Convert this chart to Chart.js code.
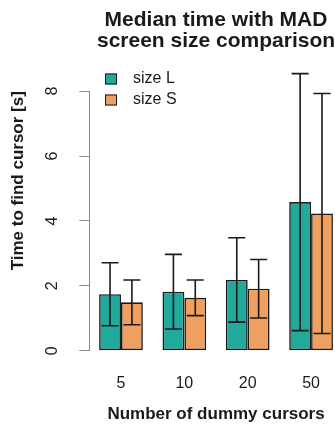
<!DOCTYPE html>
<html>
<head>
<meta charset="utf-8">
<script src="https://cdn.jsdelivr.net/npm/chart.js@4.4.1/dist/chart.umd.min.js"></script>
<style>
  html, body { margin: 0; padding: 0; background: #fff; overflow: hidden; }
  canvas { display: block; }
</style>
</head>
<body>
<canvas id="madChart" width="343" height="425"></canvas>
<script>
// Values
const categories = ['5', '10', '20', '50'];
const seriesLabels = ['size L', 'size S'];
const medianL = [1.74, 1.82, 2.18, 4.58];
const medianS = [1.49, 1.63, 1.91, 4.23];
const madL = [0.97, 1.15, 1.30, 3.96];
const madS = [0.69, 0.55, 0.90, 3.70];
const yTicks = [0, 2, 4, 6, 8];

const FONT = "'Liberation Sans', Arial, Helvetica, sans-serif";
const TEAL = '#21a99b';
const ORANGE = '#efa060';
const INK = '#1a1a1a';

// Draws the MAD whiskers on top of the bars
const errorBars = {
    id: 'errorBars',
    afterDatasetsDraw(chart) {
        const ctx = chart.ctx;
        const yScale = chart.scales.y;
        ctx.save();
        ctx.strokeStyle = INK;
        ctx.lineWidth = 1.6;
        chart.data.datasets.forEach((ds, i) => {
            const meta = chart.getDatasetMeta(i);
            meta.data.forEach((bar, j) => {
                const mid = ds.data[j];
                const top = yScale.getPixelForValue(mid + ds.mad[j]);
                const bot = yScale.getPixelForValue(mid - ds.mad[j]);
                const half = bar.width * 0.39;
                ctx.beginPath();
                ctx.moveTo(bar.x, top);
                ctx.lineTo(bar.x, bot);
                ctx.moveTo(bar.x - half, top);
                ctx.lineTo(bar.x + half, top);
                ctx.moveTo(bar.x - half, bot);
                ctx.lineTo(bar.x + half, bot);
                ctx.stroke();
            });
        });
        ctx.restore();
    }
};

// Legend drawn in the top-left corner of the plot, like R's legend("topleft")
const cornerLegend = {
    id: 'cornerLegend',
    afterDraw(chart) {
        const ctx = chart.ctx;
        ctx.save();
        ctx.font = '16px ' + FONT;
        ctx.textBaseline = 'middle';
        ctx.textAlign = 'left';
        chart.data.datasets.forEach((ds, i) => {
            const y = 79 + i * 21;
            ctx.fillStyle = ds.backgroundColor;
            ctx.fillRect(105, y - 5.5, 12, 11);
            ctx.strokeStyle = INK;
            ctx.lineWidth = 1;
            ctx.strokeRect(105.5, y - 5, 11, 10);
            ctx.fillStyle = INK;
            ctx.fillText(ds.label, 133, y);
        });
        ctx.restore();
    }
};

const ctx = document.getElementById('madChart').getContext('2d');
const chart = new Chart(ctx, {
    type: 'bar',
    data: {
        labels: categories,
        datasets: [
            {
                label: seriesLabels[0],
                data: medianL,
                mad: madL,
                backgroundColor: TEAL,
                borderColor: INK,
                borderWidth: 1.6,
                borderSkipped: false
            },
            {
                label: seriesLabels[1],
                data: medianS,
                mad: madS,
                backgroundColor: ORANGE,
                borderColor: INK,
                borderWidth: 1.6,
                borderSkipped: false
            }
        ]
    },
    options: {
        responsive: false,
        animation: false,
        layout: { padding: 0 },
        datasets: {
            bar: { categoryPercentage: 0.69, barPercentage: 1.0 }
        },
        plugins: {
            legend: { display: false },
            tooltip: { enabled: false },
            title: {
                display: true,
                fullSize: false,
                text: ['Median time with MAD', 'screen size comparison'],
                color: INK,
                font: { family: FONT, size: 21, weight: 'bold', lineHeight: 0.98 },
                padding: { top: 10, bottom: 40 }
            }
        },
        scales: {
            x: {
                grid: { display: false, drawTicks: false },
                border: { display: false },
                ticks: {
                    color: INK,
                    padding: 23,
                    font: { family: FONT, size: 16 }
                },
                title: {
                    display: true,
                    text: 'Number of dummy cursors',
                    color: INK,
                    font: { family: FONT, size: 17, weight: 'bold' },
                    padding: { top: 0, bottom: 0 }
                },
                afterFit(scale) { scale.height = 74.3; }
            },
            y: {
                min: 0,
                max: 8,
                grid: {
                    drawOnChartArea: false,
                    drawTicks: true,
                    tickLength: 10,
                    color: '#8a8a8a'
                },
                border: { display: true, color: '#8a8a8a', width: 1 },
                afterBuildTicks(scale) {
                    scale.ticks = yTicks.map(v => ({ value: v }));
                },
                ticks: {
                    color: INK,
                    minRotation: 90,
                    maxRotation: 90,
                    crossAlign: 'center',
                    padding: 22,
                    font: { family: FONT, size: 16 }
                },
                title: {
                    display: true,
                    align: 'end',
                    text: 'Time to find cursor [s]',
                    color: INK,
                    font: { family: FONT, size: 17, weight: 'bold' },
                    padding: { top: 8, bottom: 0 }
                },
                afterFit(scale) { scale.width = 89.3; }
            }
        }
    },
    plugins: [errorBars, cornerLegend]
});
</script>
</body>
</html>
